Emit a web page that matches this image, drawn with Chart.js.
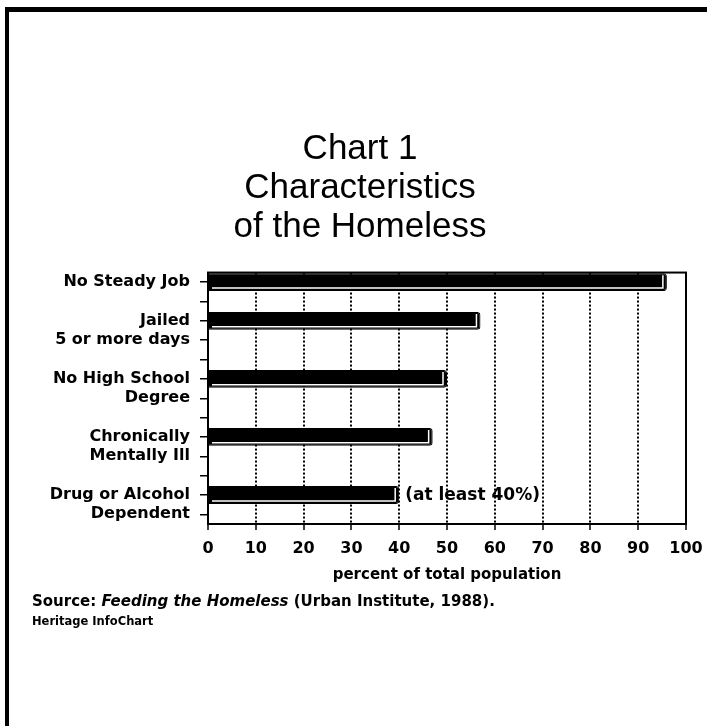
<!DOCTYPE html>
<html>
<head>
<meta charset="utf-8">
<script src="https://cdn.jsdelivr.net/npm/chart.js@4.4.1/dist/chart.umd.min.js"></script>
<style>
  html, body { margin: 0; padding: 0; background: #fff; }
  #page { position: relative; width: 713px; height: 726px; overflow: hidden; }
  #frame { position: absolute; left: 5px; top: 7px; width: 698px; height: 740px;
    border-top: 5px solid #000; border-left: 4px solid #000; }
  canvas { position: absolute; left: 0; top: 0; }
  .note { position: absolute; left: 32px; font-family: "DejaVu Sans", sans-serif;
    font-weight: bold; color: #000; white-space: nowrap; }
  #source { top: 592px; font-size: 15px; }
  #credit { top: 614px; font-size: 11.5px; }
</style>
</head>
<body>
<div id="page">
  <div id="frame"></div>
  <canvas id="homeless" width="713" height="726"></canvas>
  <div id="source" class="note">Source: <i>Feeding the Homeless</i> (Urban Institute, 1988).</div>
  <div id="credit" class="note">Heritage InfoChart</div>
</div>
<script>
// Data
const categories = [
  ['No Steady Job'],
  ['Jailed', '5 or more days'],
  ['No High School', 'Degree'],
  ['Chronically', 'Mentally Ill'],
  ['Drug or Alcohol', 'Dependent'],
];
const percentValues = [96, 57, 50, 47, 40];
const barNotes = ['', '', '', '', '(at least 40%)'];
const titleLines = ['Chart 1', 'Characteristics', 'of the Homeless'];
const xTickValues = [0, 10, 20, 30, 40, 50, 60, 70, 80, 90, 100];
const xAxisTitle = 'percent of total population';

(() => {
  // one axis row per label line, a blank row after each category
  const rowLabels = [];
  const rowValues = [];
  const rowNotes = [];
  categories.forEach((lines, i) => {
    lines.forEach((line, j) => {
      rowLabels.push(line);
      rowValues.push(j === 0 ? percentValues[i] : null);
      rowNotes.push(j === 0 ? barNotes[i] : '');
    });
    if (i < categories.length - 1) {
      rowLabels.push('');
      rowValues.push(null);
      rowNotes.push('');
    }
  });

  const labelFont = { family: '"DejaVu Sans", sans-serif', weight: 'bold', size: 16 };

  // shading on the bars, the note text, the plot frame
  const decor = {
    id: 'decor',
    afterDatasetsDraw(chart) {
      const { ctx } = chart;
      const meta = chart.getDatasetMeta(0);
      ctx.save();
      meta.data.forEach((bar, i) => {
        if (rowValues[i] == null) return;
        const { x, y, base, height } = bar.getProps(['x', 'y', 'base', 'height'], true);
        const top = y - height / 2;
        const bottom = y + height / 2;
        ctx.strokeStyle = '#fff';
        ctx.lineWidth = 1.5;
        ctx.beginPath();
        ctx.moveTo(base + 3, bottom - 3);
        ctx.lineTo(x - 4, bottom - 3);
        ctx.lineTo(x - 4, top + 2);
        ctx.stroke();
        if (rowNotes[i]) {
          ctx.fillStyle = '#000';
          ctx.font = 'bold 17px "DejaVu Sans", sans-serif';
          ctx.textAlign = 'left';
          ctx.textBaseline = 'middle';
          ctx.fillText(rowNotes[i], x + 6, y + 1);
        }
      });
      ctx.restore();
    },
    afterDraw(chart) {
      const { ctx, chartArea: a } = chart;
      ctx.save();
      ctx.strokeStyle = '#000';
      ctx.lineWidth = 2;
      ctx.strokeRect(a.left, a.top, a.right - a.left, a.bottom - a.top);
      ctx.restore();
    },
  };

  new Chart(document.getElementById('homeless'), {
    type: 'bar',
    data: {
      labels: rowLabels,
      datasets: [{
        data: rowValues,
        backgroundColor: '#000',
        borderColor: '#000',
        borderWidth: 1,
        borderRadius: { topRight: 3, bottomRight: 3 },
        borderSkipped: 'start',
        categoryPercentage: 1,
        barPercentage: 0.92,
      }],
    },
    options: {
      indexAxis: 'y',
      responsive: false,
      animation: false,
      layout: { padding: { left: 34, right: 27, top: 0, bottom: 138 } },
      scales: {
        x: {
          min: 0,
          max: 100,
          afterBuildTicks: (s) => { s.ticks = xTickValues.map((v) => ({ value: v })); },
          afterFit: (s) => { s.height = 64; },
          grid: {
            color: '#000',
            lineWidth: 2,
            tickLength: 6,
            tickBorderDash: [],
            tickWidth: 1.5,
          },
          border: { display: true, color: '#000', width: 2, dash: [2, 2] },
          ticks: { color: '#000', font: labelFont, padding: 9 },
          title: {
            display: true,
            text: xAxisTitle,
            color: '#000',
            font: { family: '"DejaVu Sans", sans-serif', weight: 'bold', size: 15 },
            padding: { top: 4, bottom: 4 },
          },
        },
        y: {
          afterFit: (s) => { s.width = 174; },
          grid: {
            offset: false,
            drawOnChartArea: false,
            color: '#000',
            lineWidth: 1.5,
            tickLength: 8,
          },
          border: { display: true, color: '#000', width: 2 },
          ticks: { color: '#000', font: labelFont, padding: 10, autoSkip: false },
        },
      },
      plugins: {
        legend: { display: false },
        tooltip: { enabled: false },
        title: {
          display: true,
          text: titleLines,
          color: '#000',
          font: { family: '"Liberation Sans", Arial, sans-serif', weight: 'normal', size: 35, lineHeight: 1.11 },
          padding: { top: 130, bottom: 26 },
        },
      },
    },
    plugins: [decor],
  });
})();
</script>
</body>
</html>
